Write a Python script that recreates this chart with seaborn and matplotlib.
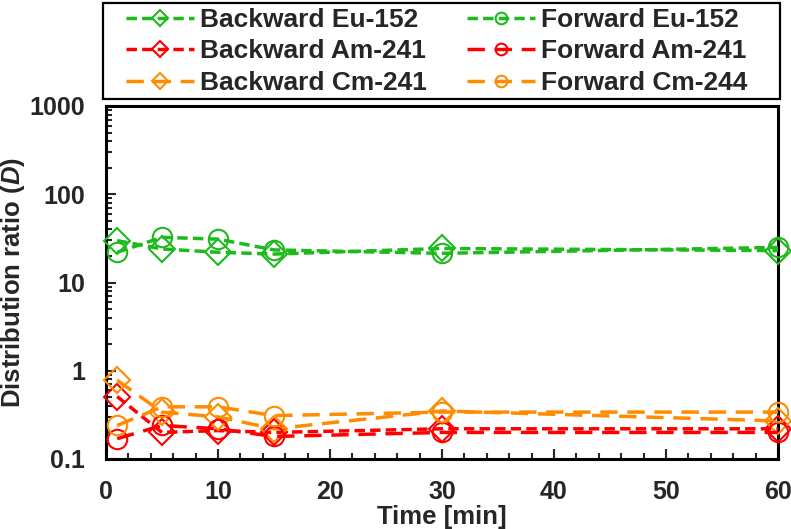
import numpy as np
import pandas as pd
import seaborn as sns
import matplotlib.pyplot as plt
from matplotlib.patches import Rectangle
from matplotlib.ticker import LogLocator, MultipleLocator, FixedLocator, FixedFormatter

# ---- Data ----
time_min = [1, 5, 10, 15, 30, 60]
backward_eu = [29.8, 24.0, 22.0, 21.0, 24.3, 23.0]
forward_eu = [22.0, 32.5, 31.0, 23.4, 21.4, 25.0]
backward_am = [0.51, 0.20, 0.21, 0.20, 0.22, 0.22]
forward_am = [0.17, 0.24, 0.22, 0.18, 0.20, 0.20]
backward_cm = [0.78, 0.34, 0.30, 0.22, 0.35, 0.27]
forward_cm = [0.24, 0.39, 0.39, 0.31, 0.34, 0.34]

y_ticks = [0.1, 1, 10, 100, 1000]
y_ticklabels = ['0.1', '1', '10', '100', '1000']

# ---- Style ----
sns.set_style('ticks')
plt.rcParams['font.family'] = ['Liberation Sans', 'DejaVu Sans']
plt.rcParams['font.weight'] = 'bold'
plt.rcParams['mathtext.fontset'] = 'custom'
plt.rcParams['mathtext.it'] = 'Liberation Sans:bold:italic'
plt.rcParams['mathtext.rm'] = 'Liberation Sans:bold'

green = '#1DB91D'
red = '#FF0000'
orange = '#FF8C00'
short_dash = (0, (3, 1.5))
long_dash = (0, (5, 2.8))

series = [
    ('Backward Eu-152', backward_eu, green, 'D', short_dash),
    ('Backward Am-241', backward_am, red, 'D', short_dash),
    ('Backward Cm-241', backward_cm, orange, 'D', long_dash),
    ('Forward Eu-152', forward_eu, green, 'o', short_dash),
    ('Forward Am-241', forward_am, red, 'o', long_dash),
    ('Forward Cm-244', forward_cm, orange, 'o', long_dash),
]

W, H = 791, 529
fig = plt.figure(figsize=(W / 100, H / 100), dpi=100)
ax = fig.add_axes([106 / W, 70 / H, 672 / W, 353 / H])

for label, vals, col, mk, ls in series:
    df = pd.DataFrame({'Time': time_min, 'D': vals})
    sns.lineplot(data=df, x='Time', y='D', ax=ax, color=col, label=label,
                 linestyle=ls, linewidth=2.5, marker=mk,
                 markersize=14 if mk == 'o' else 13,
                 markerfacecolor='none', markeredgecolor=col,
                 markeredgewidth=1.5, clip_on=False, zorder=3)

ax.set_yscale('log')
ax.set_ylim(0.1, 1000)
ax.set_xlim(0, 60)

ax.xaxis.set_major_locator(MultipleLocator(10))
ax.xaxis.set_minor_locator(MultipleLocator(2))
ax.yaxis.set_major_locator(FixedLocator(y_ticks))
ax.yaxis.set_major_formatter(FixedFormatter(y_ticklabels))
ax.yaxis.set_minor_locator(LogLocator(base=10, subs=np.arange(2, 10)))

ax.tick_params(axis='both', which='both', direction='in', top=False, right=False,
               labelsize=18, pad=15, width=1.5)
ax.tick_params(which='major', length=7)
ax.tick_params(which='minor', length=4)
for s in ax.spines.values():
    s.set_linewidth(2.2)
    s.set_color('black')

ax.set_xlabel('Time [min]', fontsize=18.5, fontweight='bold', labelpad=1)
ax.set_ylabel(r'Distribution ratio ($\mathit{D}$)', fontsize=18.5, fontweight='bold', labelpad=2)

# ---- Legend above the axes, with its own frame ----
handles, labels = ax.get_legend_handles_labels()
leg = ax.legend(handles, labels, ncol=2, loc='upper left',
                bbox_to_anchor=(126 / W, 1 - 8 / H),
                bbox_transform=fig.transFigure, borderaxespad=0, borderpad=0,
                frameon=False, handlelength=2.58, handletextpad=0.23,
                columnspacing=1.5, labelspacing=0.28, markerscale=0.6,
                prop={'size': 19, 'weight': 'bold'})
fig.patches.append(Rectangle((103 / W, 1 - 99 / H), 677 / W, 96 / H,
                             transform=fig.transFigure, fill=False,
                             edgecolor='black', linewidth=1.6))

fig.savefig('out.png', dpi=100)
